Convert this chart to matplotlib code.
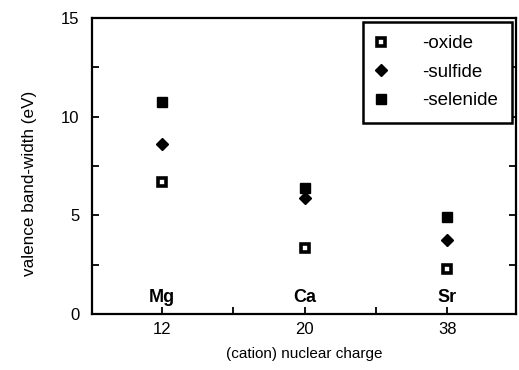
import matplotlib
matplotlib.use("Agg")
import matplotlib.pyplot as plt
from matplotlib.ticker import MultipleLocator, FixedLocator

plt.rcParams['font.family'] = ['Liberation Sans', 'DejaVu Sans']

cations = ["Mg", "Ca", "Sr"]
charge_labels = ["12", "20", "38"]
oxide = [6.7, 3.36, 2.28]
sulfide = [8.6, 5.86, 3.75]
selenide = [10.73, 6.37, 4.93]

W, H = 519, 370
fig = plt.figure(figsize=(W / 100, H / 100), dpi=100)
ax = fig.add_axes([92 / W, 1 - 314 / H, 424 / W, 296 / H])

x = list(range(len(cations)))
ax.plot(x, oxide, linestyle='none', marker='s', markersize=5.2,
        markerfacecolor='white', markeredgecolor='black', markeredgewidth=2.6,
        label='-oxide')
ax.plot(x, sulfide, linestyle='none', marker='D', markersize=6.5,
        color='black', label='-sulfide')
ax.plot(x, selenide, linestyle='none', marker='s', markersize=7,
        color='black', label='-selenide')

for xi, name in zip(x, cations):
    ax.text(xi, 0.85, name, ha='center', va='center', fontsize=13,
            fontweight='bold')

ax.set_xlim(-0.49, 2.48)
ax.set_ylim(0, 15)
ax.xaxis.set_major_locator(FixedLocator(x))
ax.set_xticklabels(charge_labels)
ax.xaxis.set_minor_locator(FixedLocator([0.5, 1.5]))
ax.yaxis.set_major_locator(MultipleLocator(5))
ax.yaxis.set_minor_locator(MultipleLocator(2.5))
ax.tick_params(axis='both', which='both', direction='in', length=5,
               width=1.3, labelsize=12, top=False, right=True)
ax.tick_params(axis='x', which='major', pad=6)
ax.tick_params(axis='y', which='major', pad=9)
for s in ax.spines.values():
    s.set_linewidth(1.6)

ax.set_xlabel('(cation) nuclear charge', fontsize=11, labelpad=7)
ax.set_ylabel('valence band-width (eV)', fontsize=12.3)
ax.yaxis.set_label_coords(-0.13, 0.44)

leg = ax.legend(loc='upper right', bbox_to_anchor=(0.99, 0.987),
                borderaxespad=0, fontsize=13.5, labelspacing=0.6,
                handletextpad=1.95, borderpad=0.72, handlelength=0.5,
                fancybox=False, framealpha=1, edgecolor='black')
leg.get_frame().set_linewidth(1.8)

fig.savefig('out.png', dpi=100)
